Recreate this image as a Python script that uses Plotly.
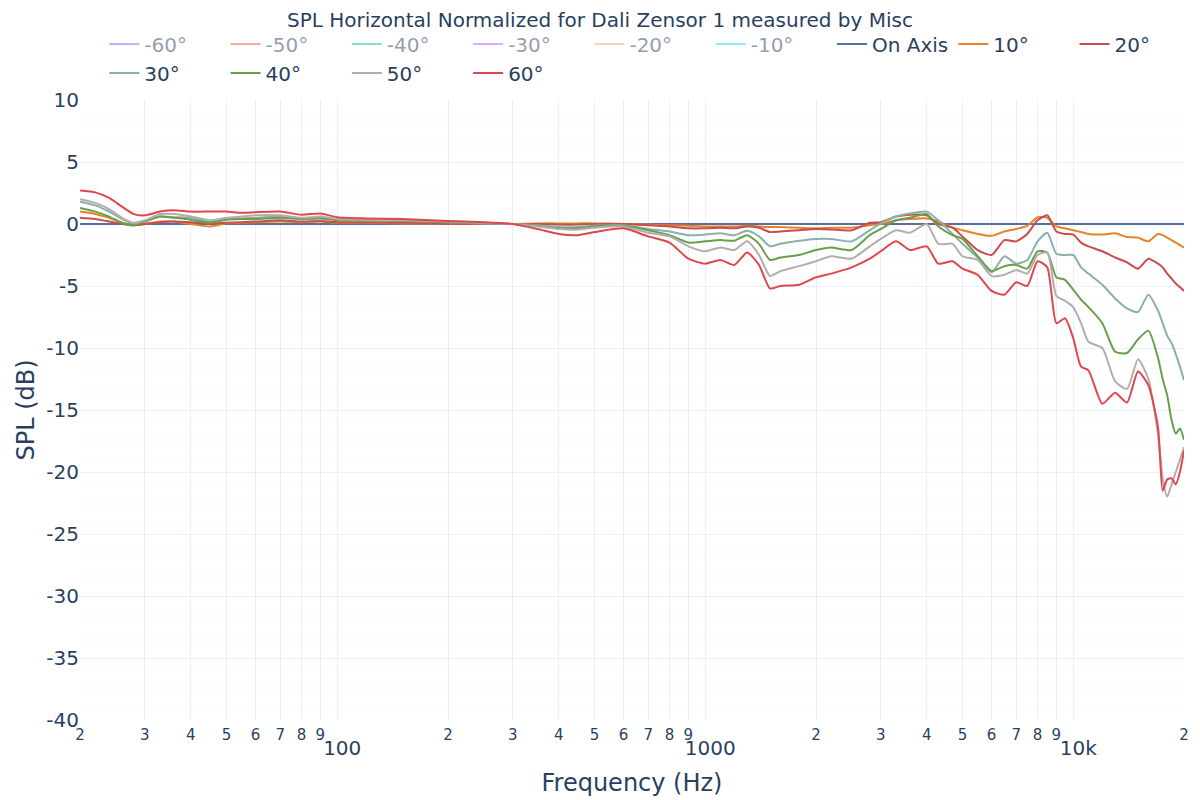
import plotly.graph_objects as go

# frequency grid (Hz)
freq = [20, 22, 24, 26, 28, 30, 33, 36, 40, 45, 50, 55, 60, 70, 80, 90, 100, 120, 150,
        200, 250, 300, 350, 400, 450, 500, 600, 700, 800, 900, 1000, 1100, 1200, 1300,
        1400, 1500, 1600, 1800, 2000, 2200, 2500, 2800, 3000, 3300, 3600, 4000, 4300,
        4700, 5000, 5500, 6000, 6500, 7000, 7500, 8000, 8500, 9000, 9500, 10000, 10500,
        11000, 12000, 13000, 14000, 15000, 16000, 17000, 17500, 18000, 18500, 19000,
        19500, 20000]

on_axis = [0.0] * len(freq)

spl_10 = [1.0, 0.8, 0.5, 0.1, -0.1, 0.0, 0.2, 0.2, 0.0, -0.2, 0.05, 0.1, 0.15, 0.2, 0.15,
          0.2, 0.1, 0.1, 0.05, 0.05, 0.0, 0.0, 0.05, 0.05, 0.05, 0.05, 0.0, -0.05, -0.1,
          -0.15, -0.2, -0.2, -0.2, -0.15, -0.2, -0.25, -0.25, -0.3, -0.35, -0.3, -0.3,
          -0.1, 0.0, 0.3, 0.4, 0.45, 0.2, -0.3, -0.5, -0.8, -0.95, -0.6, -0.4, -0.15,
          0.55, 0.5, -0.2, -0.35, -0.5, -0.65, -0.8, -0.85, -0.75, -1.05, -1.1, -1.4,
          -0.8, -0.9, -1.1, -1.3, -1.5, -1.7, -1.9]

spl_20 = [0.5, 0.4, 0.2, 0.0, -0.1, 0.0, 0.15, 0.2, 0.15, 0.05, 0.1, 0.15, 0.2, 0.3, 0.2,
          0.25, 0.15, 0.15, 0.1, 0.05, 0.0, 0.0, 0.0, -0.05, -0.05, 0.0, 0.0, -0.1, -0.2,
          -0.35, -0.35, -0.3, -0.35, -0.2, -0.3, -0.65, -0.6, -0.5, -0.4, -0.45, -0.5,
          0.1, 0.15, 0.6, 0.75, 0.7, 0.0, -0.3, -1.0, -2.1, -2.5, -1.3, -1.4, -0.8, 0.3,
          0.7, -0.6, -0.8, -0.85, -1.5, -1.8, -2.2, -2.7, -3.1, -3.6, -2.8, -3.2, -3.5,
          -4.0, -4.4, -4.8, -5.1, -5.4]

spl_30 = [1.8, 1.5, 1.0, 0.4, 0.0, 0.2, 0.6, 0.55, 0.5, 0.2, 0.4, 0.45, 0.5, 0.6, 0.45,
          0.5, 0.35, 0.3, 0.25, 0.15, 0.05, 0.0, -0.1, -0.25, -0.25, -0.15, -0.1, -0.4,
          -0.6, -0.9, -0.85, -0.75, -0.9, -0.55, -1.0, -1.8, -1.6, -1.35, -1.2, -1.2,
          -1.4, -0.5, 0.05, 0.6, 0.85, 1.0, 0.3, -0.8, -1.6, -2.7, -3.9, -2.6, -3.2,
          -2.9, -1.4, -0.7, -2.4, -2.5, -2.5, -3.5, -4.0, -4.9, -6.0, -6.8, -7.1, -5.7,
          -7.0, -8.0, -9.0, -9.6, -10.5, -11.5, -12.6]

spl_40 = [1.3, 1.0, 0.6, 0.1, -0.1, 0.2, 0.6, 0.5, 0.35, 0.1, 0.35, 0.4, 0.4, 0.5, 0.4,
          0.45, 0.3, 0.3, 0.25, 0.15, 0.1, 0.0, -0.15, -0.35, -0.35, -0.2, -0.15, -0.5,
          -0.9, -1.5, -1.4, -1.3, -1.35, -0.9, -1.6, -2.9, -2.7, -2.5, -2.1, -1.9, -2.1,
          -0.9, -0.4, 0.3, 0.5, 0.8, -0.2, -0.9, -1.2, -2.6, -3.8, -3.4, -3.3, -3.6,
          -2.2, -2.3, -4.3, -4.5, -5.3, -6.1, -6.7, -8.0, -10.3, -10.4, -9.3, -8.6,
          -10.8, -12.5, -13.8, -15.8, -16.9, -16.5, -17.4]

spl_50 = [2.0, 1.7, 1.2, 0.5, 0.1, 0.3, 0.8, 0.8, 0.6, 0.3, 0.5, 0.6, 0.7, 0.7, 0.5, 0.6,
          0.4, 0.35, 0.3, 0.2, 0.1, 0.0, -0.2, -0.4, -0.45, -0.3, -0.2, -0.7, -1.0, -1.8,
          -2.2, -1.9, -2.1, -1.4, -2.5, -4.2, -3.8, -3.4, -3.0, -2.6, -2.8, -1.8, -1.2,
          -0.5, -0.7, 0.0, -1.6, -1.6, -2.6, -2.9, -4.2, -4.1, -3.7, -4.0, -2.5, -2.3,
          -5.8, -6.2, -6.7, -8.0, -9.5, -10.0, -12.7, -13.3, -10.9, -12.5, -17.0, -20.5,
          -22.0, -21.0, -20.0, -19.0, -18.0]

spl_60 = [2.7, 2.55, 2.1, 1.4, 0.8, 0.7, 1.0, 1.1, 1.0, 1.0, 1.0, 0.9, 0.95, 1.0, 0.75,
          0.85, 0.55, 0.45, 0.4, 0.25, 0.15, 0.0, -0.4, -0.8, -0.9, -0.65, -0.35, -1.0,
          -1.5, -2.8, -3.2, -2.9, -3.3, -2.3, -3.3, -5.2, -5.0, -4.9, -4.3, -4.0, -3.5,
          -2.8, -2.2, -1.4, -2.1, -1.8, -3.2, -3.0, -3.6, -4.1, -5.4, -5.7, -4.7, -5.0,
          -3.0, -3.5, -8.0, -7.6, -9.2, -11.5, -11.8, -14.5, -13.6, -14.4, -11.9, -13.0,
          -16.4, -21.5, -20.6, -20.5, -21.0, -20.0, -18.3]

# y tick labels use a plain hyphen like the original
y_ticks = [10, 5, 0, -5, -10, -15, -20, -25, -30, -35, -40]
y_ticklabels = ["10", "5", "0", "-5", "-10", "-15", "-20", "-25", "-30", "-35", "-40"]

# hidden (legendonly) curves: only the legend entries are visible in the chart
hidden_names = ["-60°", "-50°", "-40°", "-30°", "-20°", "-10°"]
hidden_colors = ["#636efa", "#ef553b", "#00cc96", "#ab63fa", "#ffa15a", "#19d3f3"]

shown_names = ["On Axis", "10°", "20°", "30°", "40°", "50°", "60°"]
shown_colors = ["#5470a0", "#e5822a", "#c94d4f", "#8ab0aa", "#67a04a", "#b3adad", "#e0474c"]
shown_values = [on_axis, spl_10, spl_20, spl_30, spl_40, spl_50, spl_60]

fig = go.Figure()
for name, color in zip(hidden_names, hidden_colors):
    fig.add_trace(go.Scatter(x=freq, y=on_axis, name=name, mode="lines",
                             line=dict(color=color, width=2), visible="legendonly"))
for name, color, vals in zip(shown_names, shown_colors, shown_values):
    fig.add_trace(go.Scatter(x=freq, y=vals, name=name, mode="lines",
                             line=dict(color=color, width=2, shape="spline", smoothing=0.6)))

fig.update_xaxes(
    type="log",
    range=[1.30103, 4.30103],
    dtick="D1",
    title_text="Frequency (Hz)",
    title_font_size=24,
    tickfont_size=20,
    ticklabelstandoff=4,
    showline=False,
    zeroline=False,
    automargin=False,
)
fig.update_yaxes(
    range=[-40, 10],
    tickmode="array",
    tickvals=y_ticks,
    ticktext=y_ticklabels,
    title_text="SPL (dB)",
    title_font_size=24,
    title_standoff=4,
    tickfont_size=20,
    minor=dict(dtick=1, showgrid=True),
    zeroline=False,
    automargin=False,
)
fig.update_layout(
    template="plotly_white",
    width=1200,
    height=800,
    font_family="Verdana, DejaVu Sans, sans-serif",
    margin=dict(l=72, r=24, t=92, b=88),
    title=dict(text="SPL Horizontal Normalized for Dali Zensor 1 measured by Misc",
               x=0.4933, xanchor="center", y=0.994, font_size=20),
    legend=dict(orientation="h", x=0.022, xanchor="left", y=1.012, yanchor="bottom",
                font_size=20),
)
fig.write_html("out.html")
